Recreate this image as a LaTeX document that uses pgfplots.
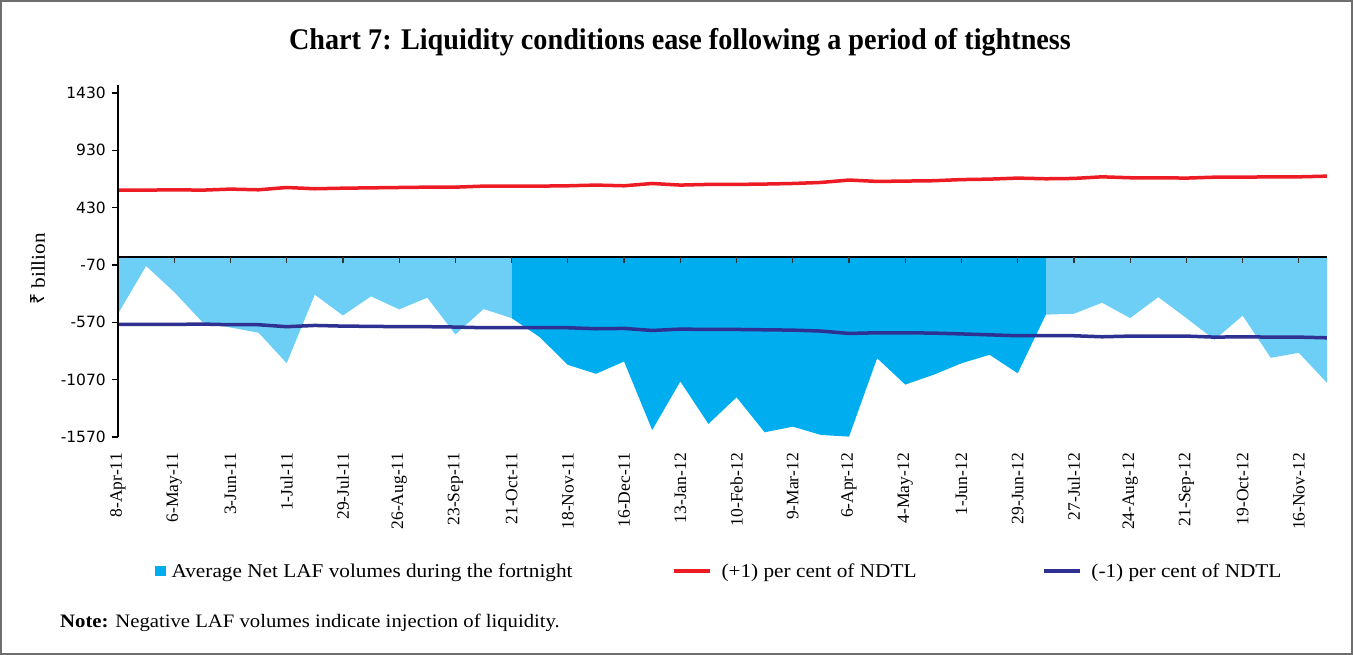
\documentclass[border=0pt]{standalone}
\usepackage{pgfplots}
\usepackage{pgfplotstable}
\pgfplotsset{compat=1.18}
\usepackage{fontspec}
\setmainfont{Liberation Serif}
\newfontfamily\widefont{Liberation Serif}[FakeStretch=1.09]
\newfontfamily\titlefont{Liberation Serif}[FakeStretch=0.94]
\newfontfamily\tickfont{DejaVu Sans}
\newfontfamily\rupeefont{Noto Sans}
\definecolor{lafl}{HTML}{6DCFF6}
\definecolor{lafd}{HTML}{00AEEF}
\definecolor{plusred}{HTML}{ED1C24}
\definecolor{minusblue}{HTML}{2E3192}
\definecolor{framegray}{HTML}{6E6E6E}

\pgfplotstableread{
i laf plus minus
0 -495 583 -588
1 -79 583 -588
2 -306 586 -588
3 -568 583 -585
4 -615 592 -591
5 -661 586 -591
6 -926 606 -608
7 -329 595 -597
8 -510 600 -603
9 -343 603 -605
10 -457 606 -608
11 -355 609 -608
12 -676 609 -611
13 -454 618 -617
14 -533 617 -617
15 -699 618 -617
16 -941 621 -617
17 -1019 627 -626
18 -912 621 -623
19 -1509 641 -641
20 -1086 627 -629
21 -1456 633 -632
22 -1224 633 -632
23 -1529 636 -635
24 -1480 641 -638
25 -1552 650 -646
26 -1567 671 -667
27 -883 659 -661
28 -1113 662 -661
29 -1028 665 -664
30 -927 675 -671
31 -853 679 -679
32 -1014 688 -687
33 -503 682 -685
34 -495 685 -687
35 -399 699 -696
36 -533 691 -690
37 -350 691 -690
38 -533 688 -690
39 -722 696 -699
40 -512 696 -696
41 -879 699 -699
42 -836 699 -699
43 -1098 705 -705
}\lafdata

\begin{document}
\begin{tikzpicture}[x=1pt,y=1pt]
\useasboundingbox (0,0) rectangle (1353,655);
\draw[framegray, line width=2pt] (1,1) rectangle (1352,654);
\node[font=\titlefont\bfseries\fontsize{30}{34}\selectfont] at (680,613) {Chart 7: Liquidity conditions ease following a period of tightness};
\node[rotate=90, font=\widefont\fontsize{19.5}{22}\selectfont] at (38,386) {{\rupeefont ₹} billion};
\node[anchor=west, inner sep=0pt, font=\widefont\fontsize{19}{22}\selectfont] at (60,32) {\textbf{Note:} Negative LAF volumes indicate injection of liquidity.};
\begin{axis}[
  at={(118pt,218pt)}, anchor=south west,
  scale only axis, width=1209pt, height=352pt,
  xmin=0, xmax=43, ymin=-1570, ymax=1500,
  axis on top,
  axis x line*=bottom, x axis line style={draw=none},
  axis y line*=left, y axis line style={line width=2pt, black},
  xtick={0,2,...,42},
  xticklabels={8-Apr-11,6-May-11,3-Jun-11,1-Jul-11,29-Jul-11,26-Aug-11,23-Sep-11,21-Oct-11,18-Nov-11,16-Dec-11,13-Jan-12,10-Feb-12,9-Mar-12,6-Apr-12,4-May-12,1-Jun-12,29-Jun-12,27-Jul-12,24-Aug-12,21-Sep-12,19-Oct-12,16-Nov-12},
  x tick style={draw=none},
  xticklabel style={rotate=90, anchor=east, inner sep=0pt, font=\fontsize{17.5}{20}\selectfont},
  xticklabel shift=10pt,
  ytick={-1570,-1070,-570,-70,430,930,1430},
  yticklabels={-1570,-1070,-570,-70,430,930,1430},
  y tick style={line width=1.2pt, black},
  tick align=outside, major tick length=6pt,
  yticklabel style={inner sep=0pt, font=\tickfont\fontsize{15.5}{18}\selectfont},
  yticklabel shift=6pt,
  legend columns=3,
  legend style={at={(0.0306,-0.381)}, anchor=west, draw=none, fill=none, inner sep=0pt,
    font=\widefont\fontsize{19.5}{22}\selectfont, cells={anchor=west},
    /tikz/column 2/.style={column sep=98pt},
    /tikz/column 4/.style={column sep=124pt}},
]
\addplot[fill=lafl, draw=none, forget plot, restrict x to domain=0:14] table[x=i, y=laf] {\lafdata} \closedcycle;
\addplot[fill=lafl, draw=none, forget plot, restrict x to domain=33:43] table[x=i, y=laf] {\lafdata} \closedcycle;
\addplot[fill=lafd, draw=none, forget plot, restrict x to domain=14:33] table[x=i, y=laf] {\lafdata} \closedcycle;
\addplot[black, line width=2pt, forget plot] coordinates {(0,0) (43,0)};
\addplot[ycomb, black!80, line width=1.2pt, forget plot] coordinates {(2,-50) (4,-50) (6,-50) (8,-50) (10,-50) (12,-50) (14,-50) (16,-50) (18,-50) (20,-50) (22,-50) (24,-50) (26,-50) (28,-50) (30,-50) (32,-50) (34,-50) (36,-50) (38,-50) (40,-50) (42,-50)};
\addplot[plusred, line width=3.5pt, forget plot] table[x=i, y=plus] {\lafdata};
\addplot[minusblue, line width=3.5pt, forget plot] table[x=i, y=minus] {\lafdata};
\addlegendimage{legend image code/.code={\fill[lafd] (0pt,-4.5pt) rectangle (10pt,4.5pt); \path (14pt,0pt);}}
\addlegendentry{Average Net LAF volumes during the fortnight}
\addlegendimage{legend image code/.code={\draw[plusred, line width=3.5pt] (0pt,0pt) -- (36pt,0pt); \path (45pt,0pt);}}
\addlegendentry{(+1) per cent of NDTL}
\addlegendimage{legend image code/.code={\draw[minusblue, line width=3.5pt] (0pt,0pt) -- (36pt,0pt); \path (45pt,0pt);}}
\addlegendentry{(-1) per cent of NDTL}
\end{axis}
\end{tikzpicture}
\end{document}
